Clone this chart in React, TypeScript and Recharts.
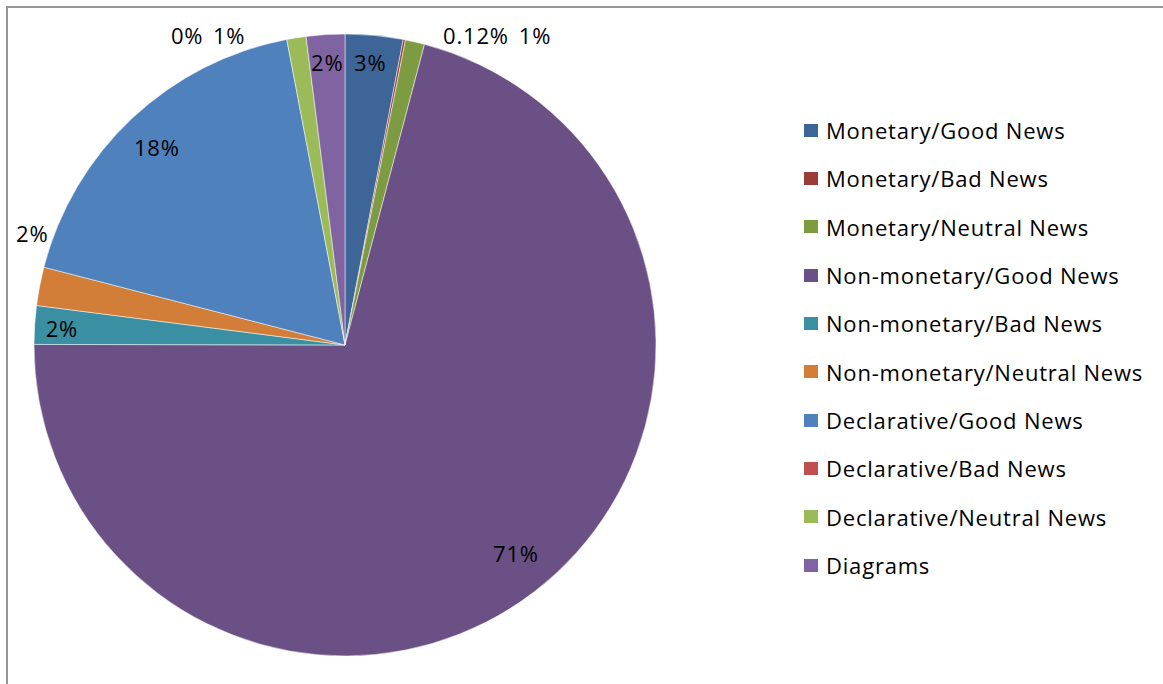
import React from "react";
import { PieChart, Pie, Cell, Legend } from "recharts";

const categories = [
  "Monetary/Good News",
  "Monetary/Bad News",
  "Monetary/Neutral News",
  "Non-monetary/Good News",
  "Non-monetary/Bad News",
  "Non-monetary/Neutral News",
  "Declarative/Good News",
  "Declarative/Bad News",
  "Declarative/Neutral News",
  "Diagrams",
];

const shares = [3, 0.12, 1, 71, 2, 2, 18, 0, 1, 2];

const colors = [
  "#3D6597",
  "#9B3C39",
  "#7D9B40",
  "#6A5085",
  "#3A8FA2",
  "#D27E38",
  "#4F81BD",
  "#C0504D",
  "#9BBB59",
  "#8064A2",
];

// label placement (style): angular shift in degrees and radius as fraction of outer radius
const labelShift = [0.3, -11.9, -18.5, 1.9, 0.3, -8.8, 0.4, 16.2, 11.5, 0];
const labelRadius = [0.913, 1.082, 1.169, 0.865, 0.912, 1.068, 0.878, 1.119, 1.064, 0.912];

const data = categories.map((name, i) => ({ name, value: shares[i] }));

const FONT = "'Open Sans', 'Noto Sans', sans-serif";
const FONT_SIZE = 22;
const LETTER = "0.8px";
const RAD = Math.PI / 180;

const renderLabel = (props: any) => {
  const { cx, cy, midAngle, outerRadius, index, value } = props;
  const a = (midAngle + labelShift[index]) * RAD;
  const r = outerRadius * labelRadius[index];
  const x = cx + r * Math.cos(-a);
  const y = cy + r * Math.sin(-a);
  return (
    <text
      key={`lbl-${index}`}
      x={x}
      y={y}
      textAnchor="middle"
      dominantBaseline="central"
      fill="#000"
      style={{ fontFamily: FONT, fontSize: FONT_SIZE, letterSpacing: LETTER }}
    >
      {`${value}%`}
    </text>
  );
};

const renderLegend = (props: any) => {
  const payload = props.payload || [];
  return (
    <div style={{ fontFamily: FONT, fontSize: FONT_SIZE, letterSpacing: LETTER, color: "#000" }}>
      {payload.map((entry: any, i: number) => (
        <div
          key={`leg-${i}`}
          style={{ height: 48.33, display: "flex", alignItems: "center", whiteSpace: "nowrap" }}
        >
          <span
            style={{
              display: "inline-block",
              width: 14,
              height: 13,
              background: entry.color,
              marginRight: 8,
            }}
          />
          <span>{entry.value}</span>
        </div>
      ))}
    </div>
  );
};

export default function App() {
  return (
    <div
      style={{
        position: "absolute",
        left: 6,
        top: 6,
        width: 1180,
        height: 700,
        borderTop: "2px solid #969696",
        borderLeft: "2px solid #969696",
        background: "#fff",
      }}
    >
      <PieChart width={1170} height={690} margin={{ top: 0, right: 0, bottom: 0, left: 0 }}>
        <Pie
          data={data}
          dataKey="value"
          nameKey="name"
          cx={337}
          cy={337}
          outerRadius={311}
          startAngle={90}
          endAngle={-270}
          stroke="#ffffff"
          strokeWidth={0.5}
          label={renderLabel}
          labelLine={false}
          isAnimationActive={false}
        >
          {data.map((d, i) => (
            <Cell key={`c-${i}`} fill={colors[i]} />
          ))}
        </Pie>
        <Legend
          layout="vertical"
          content={renderLegend}
          itemSorter={(item: any) => categories.indexOf(item.value)}
          wrapperStyle={{ position: "absolute", left: 796, top: 98, width: 360 }}
        />
      </PieChart>
    </div>
  );
}
